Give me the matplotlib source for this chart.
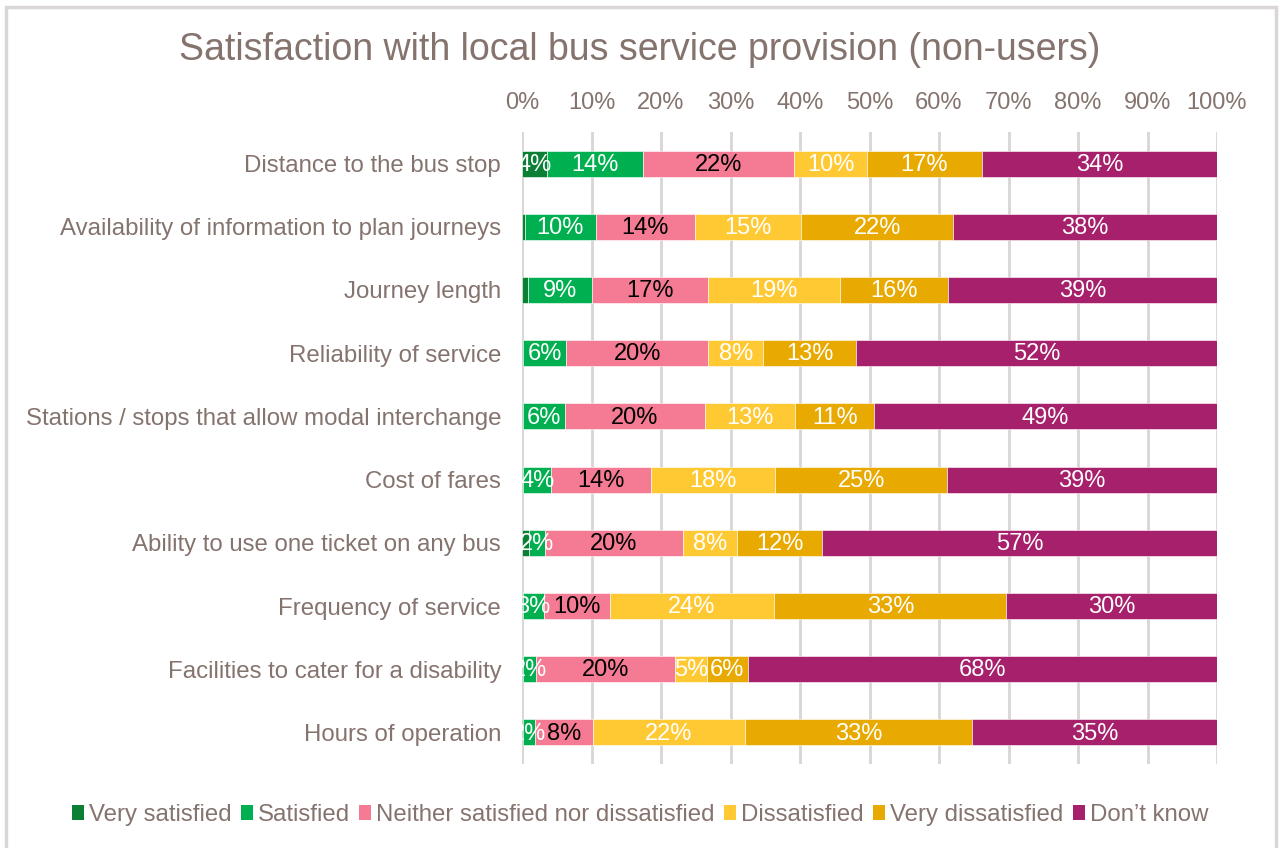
import matplotlib
matplotlib.use("Agg")
import matplotlib.pyplot as plt
from matplotlib.patches import Rectangle, Patch
import numpy as np

plt.rcParams['font.family'] = ['Liberation Sans', 'DejaVu Sans']

categories = [
    "Distance to the bus stop",
    "Availability of information to plan journeys",
    "Journey length",
    "Reliability of service",
    "Stations / stops that allow modal interchange",
    "Cost of fares",
    "Ability to use one ticket on any bus",
    "Frequency of service",
    "Facilities to cater for a disability",
    "Hours of operation",
]
series_names = ["Very satisfied", "Satisfied", "Neither satisfied nor dissatisfied",
                "Dissatisfied", "Very dissatisfied", "Don\u2019t know"]
very_satisfied = [3.6, 0.4, 0.8, 0.2, 0.2, 0.2, 1.0, 0.2, 0.2, 0.2]
satisfied      = [13.8, 10.2, 9.3, 6.2, 6.0, 4.0, 2.3, 2.9, 1.8, 1.6]
neither        = [21.8, 14.3, 16.6, 20.4, 20.1, 14.4, 19.8, 9.5, 20.0, 8.4]
dissatisfied   = [10.4, 15.3, 19.0, 7.9, 13.0, 17.8, 7.9, 23.7, 4.6, 21.9]
very_dissat    = [16.6, 21.8, 15.6, 13.4, 11.4, 24.8, 12.2, 33.4, 5.9, 32.6]
dont_know      = [33.8, 38.0, 38.7, 51.9, 49.3, 38.8, 56.8, 30.3, 67.5, 35.3]

series = [very_satisfied, satisfied, neither, dissatisfied, very_dissat, dont_know]
colors = ["#0B8035", "#00B050", "#F47B93", "#FFC933", "#E8A900", "#A6206C"]
label_colors = ["white", "white", "black", "white", "white", "white"]
text_color = "#85736E"

fig = plt.figure(figsize=(12.8, 8.48), dpi=100)
ax = fig.add_axes([522/1280, 1-764/848, (1217-522)/1280, (764-132)/848])

data = np.array(series, dtype=float)
data = data / data.sum(axis=0) * 100
y = np.arange(len(categories))
left = np.zeros(len(categories))
for i, (name, vals) in enumerate(zip(series_names, data)):
    ax.barh(y, vals, left=left, height=0.41, color=colors[i],
            edgecolor="white", linewidth=0.4, label=name, zorder=3)
    for j, v in enumerate(vals):
        if v >= 1.5:
            ax.text(left[j] + v/2, y[j] + 0.02, f"{int(round(v))}%", ha="center", va="center",
                    fontsize=17, color=label_colors[i], zorder=4)
    left += vals

ax.set_xlim(0, 100)
ax.set_ylim(len(categories)-0.5, -0.5)
ax.xaxis.tick_top()
ax.set_xticks(np.arange(0, 101, 10))
ax.set_xticklabels([f"{t}%" for t in range(0, 101, 10)], fontsize=17, color=text_color)
ax.set_yticks(y)
ax.set_yticklabels(categories, fontsize=17.3, color=text_color)
ax.tick_params(axis="both", length=0)
ax.tick_params(axis="y", pad=15)
ax.tick_params(axis="x", pad=13)
ax.grid(axis="x", color="#D9D5D4", linewidth=2, zorder=0)
for s in ax.spines.values():
    s.set_visible(False)

fig.text(0.5, 1-50/848, "Satisfaction with local bus service provision (non-users)",
         ha="center", va="center", fontsize=27, color=text_color)

handles = [Patch(facecolor=c, edgecolor="none") for c in colors]
fig.legend(handles, series_names, loc="center", bbox_to_anchor=(0.5, 1-815/848),
           ncol=6, frameon=False, fontsize=17.3, labelcolor=text_color,
           handlelength=0.5, handleheight=0.55, handletextpad=0.2, columnspacing=0.4)

fig.add_artist(Rectangle((6/1280, -0.05), (1276-6)/1280, 1.05 - 7/848,
                         transform=fig.transFigure, fill=False,
                         edgecolor="#D9D6D5", linewidth=2.5))

fig.savefig("out.png", dpi=100, facecolor="white")
